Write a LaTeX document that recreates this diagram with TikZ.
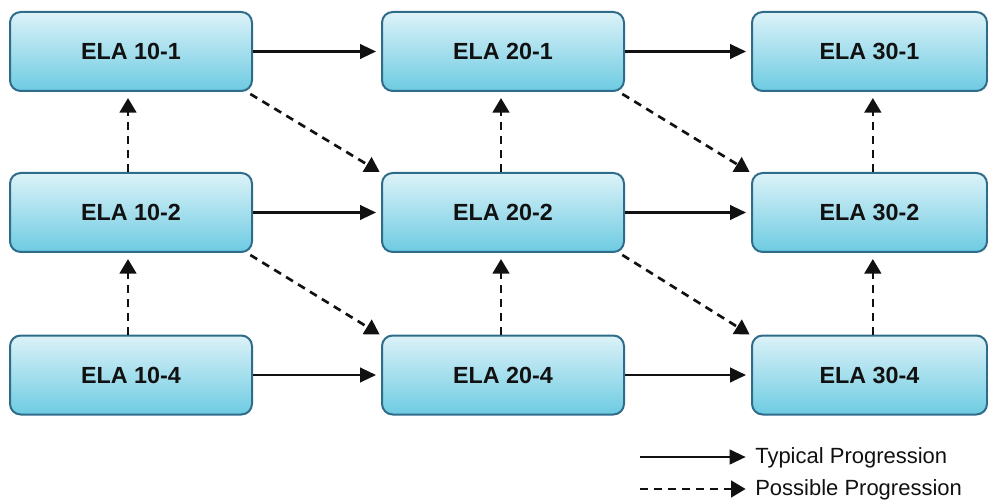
\documentclass[tikz,border=0pt]{standalone}
\usepackage{fontspec}
\setmainfont{Liberation Sans}
\usetikzlibrary{arrows.meta}
\definecolor{boxline}{HTML}{2E6C8A}
\definecolor{boxtop}{HTML}{DCF2F8}
\definecolor{boxbot}{HTML}{6DCBE2}
\definecolor{ink}{HTML}{111111}
\tikzset{
  course/.style={draw=boxline, line width=1.5pt, rounded corners=8pt,
    top color=boxtop, bottom color=boxbot, minimum width=181.5pt,
    minimum height=59.25pt, font=\fontsize{17.5}{19}\selectfont\bfseries, text=ink, inner sep=0pt},
  lastcol/.style={minimum width=176.25pt},
  typ/.style={draw=ink, line width=1.6pt, -{Triangle[length=12pt,width=11pt]}},
  poss/.style={draw=ink, line width=2pt, dash pattern=on 6pt off 4.5pt, -{Triangle[length=11pt,width=12.5pt]}},
  legtext/.style={anchor=west, font=\fontsize{16.5}{18}\selectfont, text=ink, inner sep=0pt}
}
\begin{document}
\begin{tikzpicture}[x=0.75pt,y=-0.75pt]
\useasboundingbox (0,0) rectangle (988,502);
\node[course] (a1) at (131,51.5) {ELA 10-1};
\node[course] (a2) at (131,212.5) {ELA 10-2};
\node[course] (a4) at (131,375) {ELA 10-4};
\node[course] (b1) at (503,51.5) {ELA 20-1};
\node[course] (b2) at (503,212.5) {ELA 20-2};
\node[course] (b4) at (503,375) {ELA 20-4};
\node[course,lastcol] (c1) at (869.5,51.5) {ELA 30-1};
\node[course,lastcol] (c2) at (869.5,212.5) {ELA 30-2};
\node[course,lastcol] (c4) at (869.5,375) {ELA 30-4};
% typical
\draw[typ, shorten >=3.75pt] (a1.east) -- (b1.west);
\draw[typ, shorten >=3.75pt] (b1.east) -- (c1.west);
\draw[typ, shorten >=3.75pt] (a2.east) -- (b2.west);
\draw[typ, shorten >=3.75pt] (b2.east) -- (c2.west);
\draw[typ, shorten >=3.75pt] (a4.east) -- (b4.west);
\draw[typ, shorten >=3.75pt] (b4.east) -- (c4.west);
% possible vertical
\draw[poss, shorten >=4.5pt] ([xshift=-2.25pt]a2.north) -- ([xshift=-2.25pt]a1.south);
\draw[poss, shorten >=4.5pt] ([xshift=-2.25pt]a4.north) -- ([xshift=-2.25pt]a2.south);
\draw[poss, shorten >=4.5pt] ([xshift=-1.5pt]b2.north) -- ([xshift=-1.5pt]b1.south);
\draw[poss, shorten >=4.5pt] ([xshift=-1.5pt]b4.north) -- ([xshift=-1.5pt]b2.south);
\draw[poss, shorten >=4.5pt] ([xshift=2.5pt]c2.north) -- ([xshift=2.5pt]c1.south);
\draw[poss, shorten >=4.5pt] ([xshift=2.5pt]c4.north) -- ([xshift=2.5pt]c2.south);
% possible diagonal
\draw[poss] ([xshift=-2pt,yshift=-1.5pt]a1.south east) -- ([xshift=-1pt]b2.north west);
\draw[poss] ([xshift=-2pt,yshift=-1.5pt]a2.south east) -- ([xshift=-1pt]b4.north west);
\draw[poss] ([xshift=-2pt,yshift=-1.5pt]b1.south east) -- ([xshift=-1pt]c2.north west);
\draw[poss] ([xshift=-2pt,yshift=-1.5pt]b2.south east) -- ([xshift=-1pt]c4.north west);
% legend
\node[legtext] (lt) at (755,458) {Typical Progression};
\node[legtext] (lp) at (755,490) {Possible Progression};
\coordinate (lts) at (640,457);
\coordinate (lps) at (640,489);
\draw[typ, shorten >=7pt] (lts) -- (lts -| lt.west);
\draw[poss, shorten >=7pt] (lps) -- (lps -| lp.west);
\end{tikzpicture}
\end{document}
